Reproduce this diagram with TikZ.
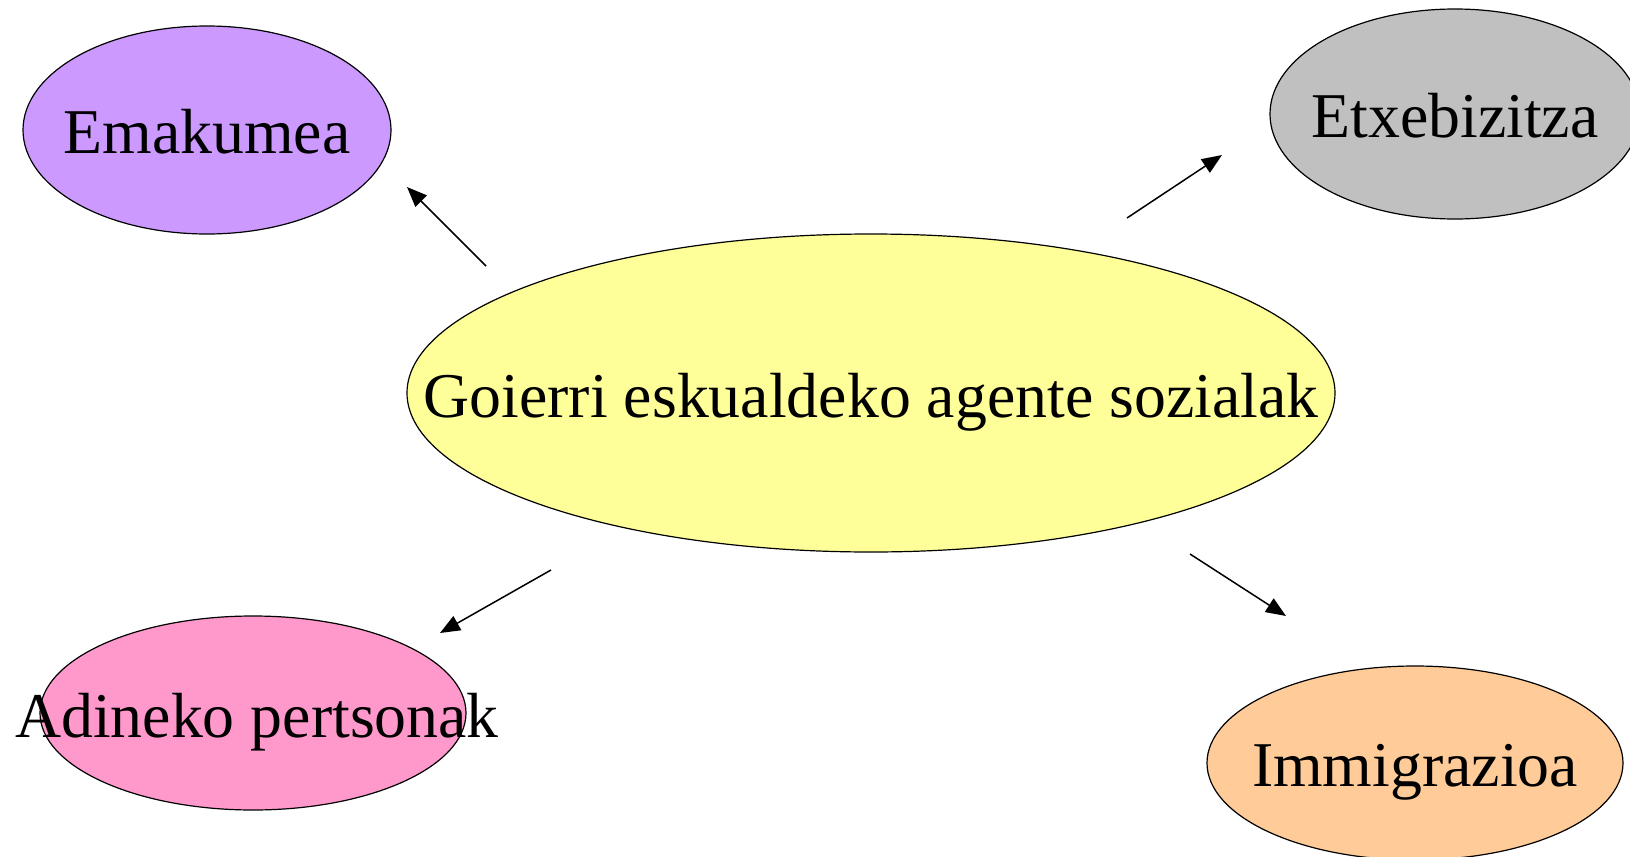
\documentclass[tikz,border=0pt]{standalone}
\usepackage{fontspec}
\setmainfont{Liberation Serif}
\usetikzlibrary{shapes.geometric,arrows.meta}
\definecolor{cpurple}{HTML}{CC99FF}
\definecolor{cgray}{HTML}{C0C0C0}
\definecolor{cyellow}{HTML}{FFFF99}
\definecolor{cpink}{HTML}{FF99CC}
\definecolor{corange}{HTML}{FFCC99}
\tikzset{
  blob/.style={ellipse, draw=black, line width=0.6pt, inner sep=0pt},
  lbl/.style={font=\fontsize{31.9pt}{36pt}\selectfont, inner sep=0pt, anchor=base},
  conn/.style={line width=0.75pt, -{Triangle[length=10pt,width=8pt]}}
}
\begin{document}
\begin{tikzpicture}[x=0.5pt,y=-0.5pt]
\useasboundingbox (0,0) rectangle (1630,857);
\clip (0,0) rectangle (1630,857);
\node[blob, fill=cpurple, minimum width=184pt, minimum height=104pt] (emak) at (207,130) {};
\node[lbl] (emakt) at (207,153) {Emakumea};
\node[blob, fill=cgray, minimum width=185pt, minimum height=105pt] (etxe) at (1455,114) {};
\node[lbl] (etxet) at (1455,137) {Etxebizitza};
\node[blob, fill=cyellow, minimum width=464pt, minimum height=159pt] (goi) at (871,393) {};
\node[lbl] (goit) at (871,417) {Goierri eskualdeko agente sozialak};
\node[blob, fill=cpink, minimum width=213pt, minimum height=97pt] (adin) at (253,713) {};
\node[lbl] (adint) at (257,737) {Adineko pertsonak};
\node[blob, fill=corange, minimum width=208pt, minimum height=97pt] (immi) at (1415,763) {};
\node[lbl] (immit) at (1415,786) {Immigrazioa};
\coordinate (a1s) at (486,266); \coordinate (a1e) at (407,187);
\coordinate (a2s) at (1127,218); \coordinate (a2e) at (1222,155);
\coordinate (a3s) at (551,570); \coordinate (a3e) at (440,633);
\coordinate (a4s) at (1190,554); \coordinate (a4e) at (1286,616);
\draw[conn] (a1s) -- (a1e);
\draw[conn] (a2s) -- (a2e);
\draw[conn] (a3s) -- (a3e);
\draw[conn] (a4s) -- (a4e);
\end{tikzpicture}
\end{document}
